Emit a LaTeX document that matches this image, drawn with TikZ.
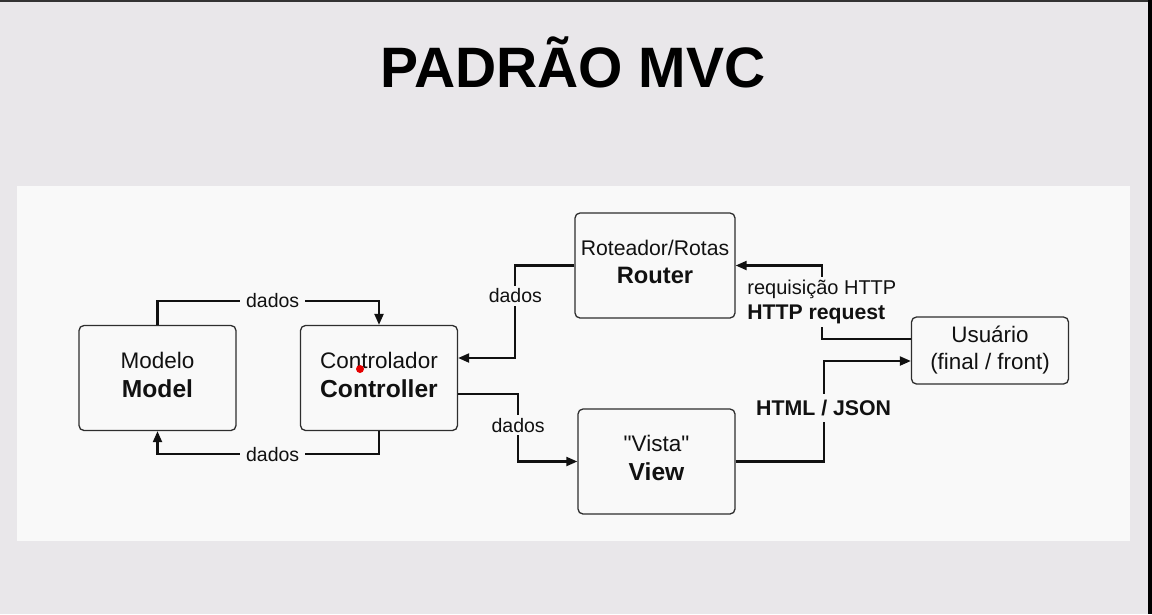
\documentclass[tikz,border=0pt]{standalone}
\usepackage{fontspec}
\setmainfont{Liberation Sans}
\usetikzlibrary{arrows.meta}
\definecolor{pagebg}{HTML}{E9E7EA}
\definecolor{panelbg}{HTML}{F9F9F9}
\definecolor{ink}{HTML}{111111}
\definecolor{boxline}{HTML}{2E2E2E}
\tikzset{
  mvcbox/.style={draw=boxline, line width=1.3pt, rounded corners=5pt, fill=panelbg,
    minimum width=#1, minimum height=105pt, inner sep=0pt, align=center, text=ink,
    text depth=7pt, font=\fontsize{22.5}{29}\selectfont},
  mvcbox/.default=157pt,
  conn/.style={draw=ink, line width=2.1pt, -{Triangle[length=11pt,width=9pt]}},
  flowlabel/.style={fill=panelbg, text=ink, inner xsep=6pt, inner ysep=3pt,
    font=\fontsize{19.5}{24}\selectfont},
}
\newcommand{\boldline}[1]{{\bfseries\fontsize{24.6}{29}\selectfont #1}}
\begin{document}
\begin{tikzpicture}[x=1pt, y=-1pt]
  \useasboundingbox (0,0) rectangle (1152,614);
  % page, frame edges and white panel
  \fill[pagebg] (0,0) rectangle (1152,614);
  \fill[black!80] (0,0) rectangle (1148,1.6);
  \fill[black] (1148,0) rectangle (1152,614);
  \fill[panelbg] (17,186) rectangle (1130,541);

  % title
  \node[anchor=base, text=black, font=\fontsize{57}{60}\selectfont\bfseries] (title) at (573,87) {PADRÃO MVC};

  % components
  \node[mvcbox] (model) at (157.5,378) {Modelo\\\boldline{Model}};
  \node[mvcbox] (ctrl) at (379,378) {Controlador\\\boldline{Controller}};
  \node[mvcbox=160pt, font=\fontsize{21.2}{28}\selectfont] (router) at (655,265.5)
    {Roteador/Rotas\\{\bfseries\fontsize{23.7}{28}\selectfont Router}};
  \node[mvcbox] (view) at (656.5,461.5) {\textquotedbl Vista\textquotedbl\\\boldline{View}};
  \node[mvcbox, minimum height=67pt, text depth=5pt, font=\fontsize{22.4}{27}\selectfont] (user) at (990,350.5) {Usuário\\(final / front)};

  % data flow between model and controller
  \draw[conn] (model.north) -- ++(0,-24) -| node[flowlabel, pos=0.26] {dados} (ctrl.north);
  \draw[conn] (ctrl.south) -- ++(0,23) -| node[flowlabel, pos=0.24] {dados} (model.south);

  % router to controller, controller to view
  \draw[conn] (router.west) -- ++(-59,0) |- node[flowlabel, pos=0.165] {dados} ([yshift=20pt]ctrl.east);
  \draw[conn] ([yshift=-16pt]ctrl.east) -- ++(60,0) |- node[flowlabel, pos=0.23] {dados} (view.west);

  % view answers the user, user requests the router
  \draw[conn] (view.east) -- ++(88,0) |- node[flowlabel, pos=0.266, inner ysep=6pt, font=\fontsize{21.3}{24}\selectfont\bfseries] {HTML / JSON} ([yshift=-10.5pt]user.west);
  \draw[conn] ([yshift=11.5pt]user.west) -- ++(-89,0) |- node[flowlabel, pos=0.25, align=left, font=\fontsize{20}{25}\selectfont] {requisição HTTP\\{\bfseries\fontsize{21.2}{25}\selectfont HTTP request}} (router.east);

  % pointer dot
  \fill[red!90!black] (360,369) circle (4pt);
\end{tikzpicture}
\end{document}
